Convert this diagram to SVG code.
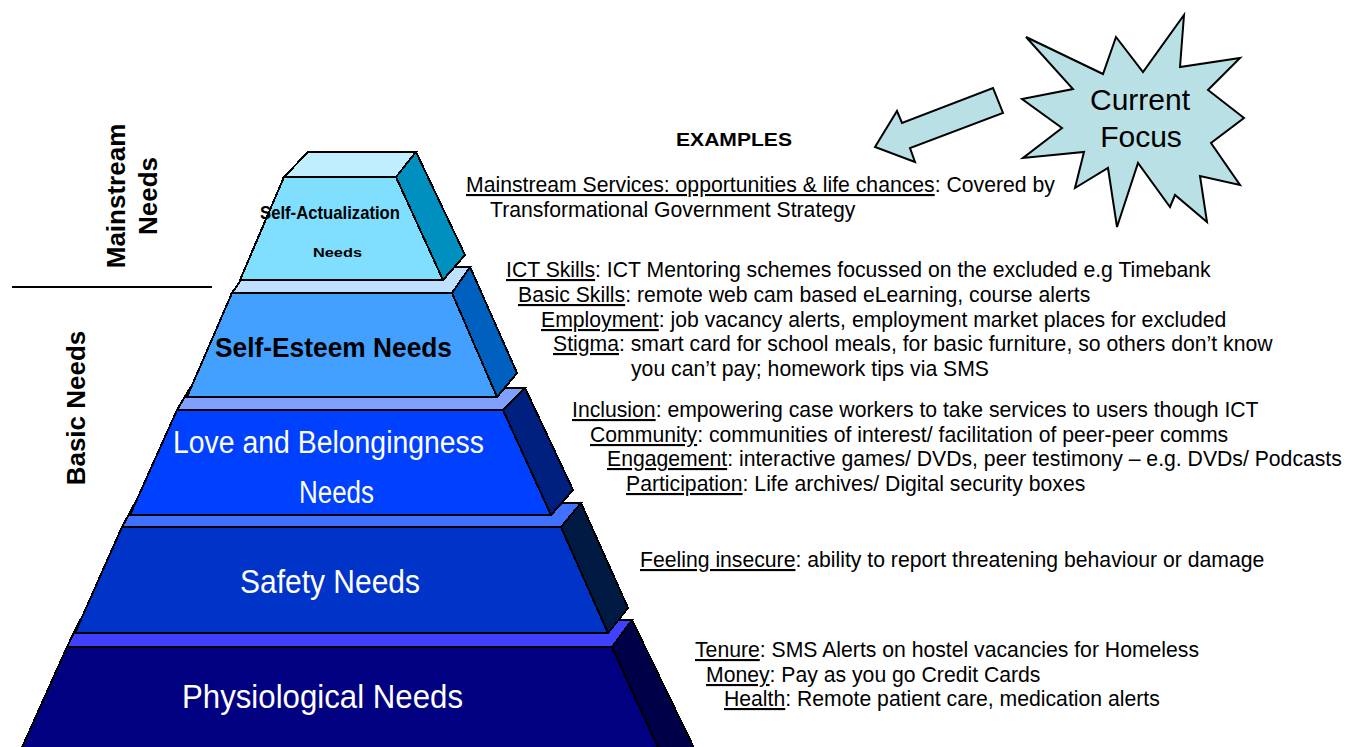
<svg xmlns="http://www.w3.org/2000/svg" width="1352" height="747" viewBox="0 0 1352 747">
  <style>
    .face { stroke: #000; stroke-width: 2; stroke-linejoin: miter; shape-rendering: crispEdges; }
    .lbl { font-family: "Liberation Sans", Arial, sans-serif; }
    .side-lbl { font-family: "Liberation Sans", Arial, sans-serif; font-weight: bold; font-size: 26px; fill: #000; text-anchor: middle; }
    .body { font-family: "Liberation Sans", Arial, sans-serif; font-size: 21.2px; fill: #000; }
    .u { text-decoration: underline; }
    .callout { fill: #B9E0E5; stroke: #000; stroke-width: 2; stroke-linejoin: miter; }
  </style>

  <rect width="1352" height="747" fill="#fff"/>

  <!-- Pyramid, drawn bottom tier first so each upper tier overlaps the one below -->
  <g id="physiological">
    <polygon class="face" fill="#4040FF" points="80,620 632,620 612,647 67,647"/>
    <polygon class="face" fill="#000048" points="612,647 632,620 696,752 660,752"/>
    <polygon class="face" fill="#000080" points="67,647 612,647 660,752 20,752"/>
    <text class="lbl" x="182" y="708" font-size="33" fill="#fff" textLength="281" lengthAdjust="spacingAndGlyphs">Physiological Needs</text>
  </g>

  <g id="safety">
    <polygon class="face" fill="#4070FF" points="135,503 581,503 561,527 122,527"/>
    <polygon class="face" fill="#001A44" points="561,527 581,503 628,608 608,633"/>
    <polygon class="face" fill="#0033C8" points="122,527 561,527 608,633 75,633"/>
    <text class="lbl" x="240" y="593" font-size="33" fill="#fff" textLength="180" lengthAdjust="spacingAndGlyphs">Safety Needs</text>
  </g>

  <g id="love-belonging">
    <polygon class="face" fill="#80A0FF" points="190,388 525,388 503,410 177,410"/>
    <polygon class="face" fill="#002080" points="503,410 525,388 573,490 551,515"/>
    <polygon class="face" fill="#0040FF" points="177,410 503,410 551,515 130,515"/>
    <text class="lbl" x="173" y="453" font-size="31" fill="#fff" textLength="311" lengthAdjust="spacingAndGlyphs">Love and Belongingness</text>
    <text class="lbl" x="299" y="503" font-size="31" fill="#fff" textLength="75" lengthAdjust="spacingAndGlyphs">Needs</text>
  </g>

  <g id="self-esteem">
    <polygon class="face" fill="#C0E0FF" points="250,267 470,267 452,293 232,293"/>
    <polygon class="face" fill="#0060C0" points="452,293 470,267 517,373 497,397"/>
    <polygon class="face" fill="#43A0FF" points="232,293 452,293 497,397 187,397"/>
    <text class="lbl" x="215" y="357" font-size="28" font-weight="bold" fill="#000" textLength="237" lengthAdjust="spacingAndGlyphs">Self-Esteem Needs</text>
  </g>

  <g id="self-actualization">
    <polygon class="face" fill="#C0EEFF" points="308,152 416,152 396,177 284,177"/>
    <polygon class="face" fill="#0090C0" points="396,177 416,152 465,255 443,280"/>
    <polygon class="face" fill="#80DFFF" points="284,177 396,177 443,280 240,280"/>
    <text class="lbl" x="260" y="219" font-size="19" font-weight="bold" fill="#000" textLength="140" lengthAdjust="spacingAndGlyphs">Self-Actualization</text>
    <text class="lbl" x="313" y="257" font-size="12" font-weight="bold" fill="#000" textLength="49" lengthAdjust="spacingAndGlyphs">Needs</text>
  </g>

  <!-- Side grouping labels -->
  <g id="group-labels">
    <text class="side-lbl" transform="translate(125,196) rotate(-90)">Mainstream</text>
    <text class="side-lbl" transform="translate(157,196) rotate(-90)">Needs</text>
    <line x1="12" y1="287" x2="212" y2="287" stroke="#000" stroke-width="2"/>
    <text class="side-lbl" transform="translate(85,408) rotate(-90)">Basic Needs</text>
  </g>

  <!-- Callout: starburst with arrow -->
  <g id="current-focus">
    <polygon class="callout" points="1026,37 1103,74 1116,37 1143,72 1184,15 1180,67 1240,58 1208,90 1244,118 1211,143 1240,185 1200,176 1207,222 1175,195 1170,207 1138,163 1117,227 1108,168 1075,188 1084,152 1023,158 1062,128 1022,99 1073,89"/>
    <text class="lbl" x="1140" y="110" font-size="30" text-anchor="middle" fill="#000">Current</text>
    <text class="lbl" x="1141" y="147" font-size="30" text-anchor="middle" fill="#000">Focus</text>
  </g>

  <g id="connectors">
    <polygon class="callout" points="875,147 897,111 902,123 993,88 1003,113 910,148 915,162"/>
  </g>

  <!-- Examples column -->
  <g id="examples">
    <text class="lbl" x="676" y="146" font-size="19" font-weight="bold" textLength="116" lengthAdjust="spacingAndGlyphs">EXAMPLES</text>

    <text class="body" x="466" y="192"><tspan class="u">Mainstream Services: opportunities &amp; life chances</tspan>: Covered by</text>
    <text class="body" x="490" y="217">Transformational Government Strategy</text>

    <text class="body" x="506" y="277"><tspan class="u">ICT Skills</tspan>: ICT Mentoring schemes focussed on the excluded e.g Timebank</text>
    <text class="body" x="518" y="302"><tspan class="u">Basic Skills</tspan>: remote web cam based eLearning, course alerts</text>
    <text class="body" x="541" y="327"><tspan class="u">Employment</tspan>: job vacancy alerts, employment market places for excluded</text>
    <text class="body" x="553" y="351"><tspan class="u">Stigma</tspan>: smart card for school meals, for basic furniture, so others don’t know</text>
    <text class="body" x="631" y="376">you can’t pay; homework tips via SMS</text>

    <text class="body" x="572" y="417"><tspan class="u">Inclusion</tspan>: empowering case workers to take services to users though ICT</text>
    <text class="body" x="590" y="442"><tspan class="u">Community</tspan>: communities of interest/ facilitation of peer-peer comms</text>
    <text class="body" x="607" y="466"><tspan class="u">Engagement</tspan>: interactive games/ DVDs, peer testimony – e.g. DVDs/ Podcasts</text>
    <text class="body" x="626" y="491"><tspan class="u">Participation</tspan>: Life archives/ Digital security boxes</text>

    <text class="body" x="640" y="567"><tspan class="u">Feeling insecure</tspan>: ability to report threatening behaviour or damage</text>

    <text class="body" x="695" y="657"><tspan class="u">Tenure</tspan>: SMS Alerts on hostel vacancies for Homeless</text>
    <text class="body" x="706" y="682"><tspan class="u">Money</tspan>: Pay as you go Credit Cards</text>
    <text class="body" x="724" y="706"><tspan class="u">Health</tspan>: Remote patient care, medication alerts</text>
  </g>
</svg>
